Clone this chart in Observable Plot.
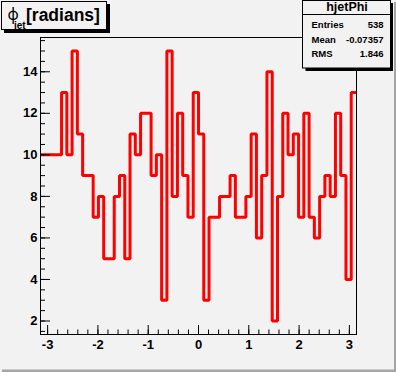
<!DOCTYPE html>
<html><head><meta charset="utf-8">
<script src="https://cdn.jsdelivr.net/npm/d3@7"></script>
<script src="https://cdn.jsdelivr.net/npm/@observablehq/plot@0.6"></script>
<style>
html,body{margin:0;padding:0;background:#f2f2f2;}
#chart{position:relative;width:396px;height:372px;overflow:hidden;}
</style>
</head><body><div id="chart"></div>
<script>
// bin contents of hjetPhi (60 bins from -pi to pi)
const counts = [10,10,10,10,13,10,15,11,9,9,7,8,5,5,8,9,5,11,10,12,12,9,
  10,3,15,8,12,9,7,13,11,3,7,7,8,8,9,7,7,8,11,
  6,9,14,2,8,12,10,11,7,12,7,6,8,9,8,12,9,4,13];
const xMin = -Math.PI, xMax = Math.PI;
const xTicks = [-3,-2,-1,0,1,2,3];
const yTicks = [2,4,6,8,10,12,14];
const titleSymbol = "φ";
const titleSub = "jet";
const titleMain = "[radians]";
const histName = "hjetPhi";
const statLabels = ["Entries","Mean","RMS"];
const statValues = ["538","-0.07357","1.846"];

const bg = "#f2f2f2";
const font = "'Liberation Sans', Arial, Helvetica, sans-serif";

const bw = (xMax - xMin) / counts.length;
const pts = counts.map((c, i) => ({x: xMin + i * bw, y: c}));
pts.push({x: xMax, y: counts[counts.length - 1]});
const cMin = d3.min(counts), cMax = d3.max(counts);
const yLo = cMin - 0.05 * (cMax - cMin), yHi = cMax + 0.05 * (cMax - cMin);
const xMinor = d3.range(-30, 31, 2).map(d => d / 10);
const yMinor = d3.range(Math.ceil(yLo * 2), Math.floor(yHi * 2) + 1).map(d => d / 2);

const svg = Plot.plot({
  width: 396, height: 372,
  marginLeft: 40, marginRight: 40, marginTop: 37, marginBottom: 38,
  x: {domain: [xMin, xMax]},
  y: {domain: [yLo, yHi]},
  style: {background: "transparent", color: "black", fontFamily: font, overflow: "visible"},
  marks: [
    Plot.line(pts, {x: "x", y: "y", curve: "step-after", stroke: "#ff0000", strokeWidth: 3, strokeLinejoin: "miter", strokeLinecap: "butt"}),
    Plot.axisX(xMinor, {tickSize: -4.5, fill: "none", stroke: "black"}),
    Plot.axisX(xTicks, {tickSize: -9, fill: "none", stroke: "black"}),
    Plot.axisX(xTicks, {tickSize: 0, tickPadding: 5, fontSize: 13, fontWeight: "bold", fill: "black", label: null, tickFormat: d => String(d)}),
    Plot.axisY(yMinor, {tickSize: -5, fill: "none", stroke: "black"}),
    Plot.axisY(yTicks, {tickSize: -10, fill: "none", stroke: "black"}),
    Plot.axisY(yTicks, {tickSize: 0, tickPadding: 3, fontSize: 13, fontWeight: "bold", fill: "black", label: null, tickFormat: d => String(d)}),
    Plot.frame({stroke: "black"})
  ]
});
svg.style.position = "absolute";
svg.style.left = "0px";
svg.style.top = "0px";
document.getElementById("chart").appendChild(svg);

const g = d3.select(svg).append("g").attr("text-anchor", "start").attr("font-family", font);
// canvas shadow border
g.append("rect").attr("x", 394).attr("y", 2).attr("width", 2).attr("height", 370).attr("fill", "#a5a5a5");
g.append("rect").attr("x", 2).attr("y", 369.5).attr("width", 394).attr("height", 2.5).attr("fill", "#a5a5a5");

// title box
g.append("rect").attr("x", 4).attr("y", 4).attr("width", 106).attr("height", 29).attr("fill", "black");
g.append("rect").attr("x", 1.5).attr("y", 1.5).attr("width", 105).attr("height", 28).attr("fill", bg).attr("stroke", "black");
g.append("text").attr("x", 7.5).attr("y", 20).attr("text-anchor", "start").attr("font-family", "'Noto Sans', sans-serif").attr("font-size", 15.5).text(titleSymbol);
g.append("text").attr("x", 14).attr("y", 28.8).attr("text-anchor", "start").attr("font-size", 10).attr("font-weight", "bold").text(titleSub);
g.append("text").attr("x", 26).attr("y", 21).attr("text-anchor", "start").attr("font-size", 17.5).attr("font-weight", "bold").text(titleMain);

// stats box
g.append("rect").attr("x", 305.5).attr("y", 3).attr("width", 87.5).attr("height", 68).attr("fill", "black");
g.append("rect").attr("x", 302.5).attr("y", 0.5).attr("width", 88).attr("height", 67.5).attr("fill", bg).attr("stroke", "black");
g.append("line").attr("x1", 302.5).attr("x2", 390.5).attr("y1", 14.5).attr("y2", 14.5).attr("stroke", "black");
g.append("text").attr("x", 347).attr("y", 11).attr("text-anchor", "middle").attr("font-size", 12.5).attr("font-weight", "bold").text(histName);
const rowY = [28.3, 43.2, 57.3];
statLabels.forEach((l, i) => {
  g.append("text").attr("x", 311.5).attr("y", rowY[i]).attr("text-anchor", "start").attr("font-size", 9.5).attr("font-weight", "bold").text(l);
  g.append("text").attr("x", 383.5).attr("y", rowY[i]).attr("text-anchor", "end").attr("font-size", 9.5).attr("font-weight", "bold").text(statValues[i]);
});
</script>
</body></html>
